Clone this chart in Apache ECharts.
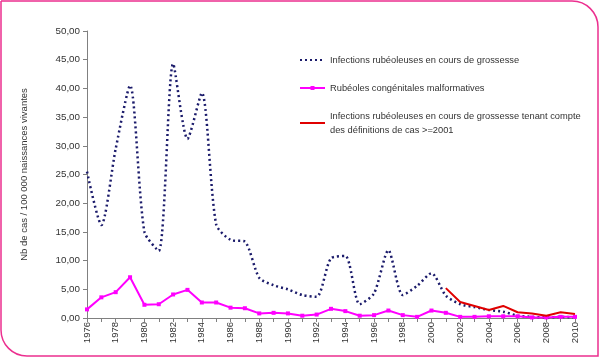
<!DOCTYPE html>
<html><head><meta charset="utf-8">
<script src="https://cdn.jsdelivr.net/npm/echarts@6/dist/echarts.min.js"></script>
<style>html,body{margin:0;padding:0;background:#fff}#c{width:600px;height:359px}</style>
</head><body><div id="c"></div>
<script>
const years = [];
for (let y = 1976; y <= 2010; y++) years.push(String(y));
const infections = [25.5,16.2,29.5,40.5,15.0,11.7,44.3,31.2,39.2,16.3,13.6,13.3,7.0,5.7,5.0,4.0,3.7,10.4,10.8,2.4,4.3,11.8,4.0,5.6,7.8,3.9,2.4,1.9,1.4,1.1,0.4,0.2,0.1,0.2,0.1];
const congenitales = [1.5,3.6,4.5,7.1,2.3,2.4,4.1,4.9,2.7,2.7,1.8,1.7,0.8,0.9,0.8,0.4,0.6,1.6,1.2,0.4,0.5,1.3,0.5,0.2,1.3,0.9,0.2,0.2,0.3,0.3,0.3,0.1,0.1,0.2,0.2];
const infections2001 = [null,null,null,null,null,null,null,null,null,null,null,null,null,null,null,null,null,null,null,null,null,null,null,null,null,5.2,2.8,2.1,1.4,2.1,1.0,0.8,0.4,1.0,0.7];
const seriesNames = ['Infections rubéoleuses en cours de grossesse','Rubéoles congénitales malformatives','Infections rubéoleuses en cours de grossesse tenant compte\ndes définitions de cas >=2001'];
const yTicks = {min:0, max:50, interval:5};

const chart = echarts.init(document.getElementById('c'), null, {renderer:'canvas'});
const font = 'Liberation Sans, Arial, sans-serif';
chart.setOption({
  animation:false,
  textStyle:{fontFamily:font},
  graphic:[{type:'rect', shape:{x:1,y:1,width:597,height:355,r:[0,26,0,26]}, style:{fill:'none',stroke:'#ec2f8f',lineWidth:1.5}, z:-1}],
  grid:{left:87,right:25,top:31,bottom:41,containLabel:false},
  legend:{
    orient:'vertical', left:294, top:48, itemWidth:25, itemHeight:5, itemGap:14,
    textStyle:{fontSize:9.3,color:'#333',fontFamily:font,lineHeight:14},
    data:[
      {name:seriesNames[0], itemStyle:{opacity:0}},
      {name:seriesNames[1]},
      {name:seriesNames[2], itemStyle:{opacity:0}}
    ]
  },
  xAxis:{type:'category', data:years, boundaryGap:false,
    axisLine:{lineStyle:{color:'#808080'}},
    axisTick:{show:true, interval:0, length:4, lineStyle:{color:'#808080'}},
    axisLabel:{interval:1, rotate:90, fontSize:9.5, color:'#333', margin:4, fontFamily:font},
    splitLine:{show:false}},
  yAxis:{type:'value', min:yTicks.min, max:yTicks.max, interval:yTicks.interval,
    name:'Nb de cas / 100 000 naissances vivantes', nameLocation:'middle', nameGap:58,
    nameTextStyle:{fontSize:9.5,color:'#333',fontFamily:font},
    axisLine:{show:true,lineStyle:{color:'#808080'}},
    axisTick:{show:true,length:4,lineStyle:{color:'#808080'}},
    axisLabel:{fontSize:9.8,color:'#333',margin:7,formatter:v=>v.toFixed(2).replace('.',','),fontFamily:font},
    splitLine:{show:false}},
  series:[
    {name:seriesNames[0], type:'line', data:infections, symbol:'none', smooth:0.25,
      lineStyle:{color:'#1b1b6b', width:2.5, type:[2,3]}, itemStyle:{color:'#1b1b6b'}, z:2},
    {name:seriesNames[1], type:'line', data:congenitales, symbol:'rect', symbolSize:4,
      lineStyle:{color:'#ff00ff', width:2}, itemStyle:{color:'#ff00ff'}, z:3},
    {name:seriesNames[2], type:'line', data:infections2001, symbol:'none', connectNulls:false,
      lineStyle:{color:'#e00000', width:2}, itemStyle:{color:'#e00000'}, z:4}
  ]
});
</script></body></html>
